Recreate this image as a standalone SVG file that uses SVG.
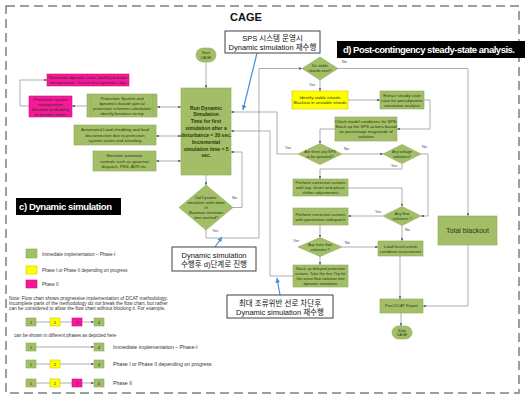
<svg xmlns="http://www.w3.org/2000/svg" width="531" height="402" viewBox="0 0 531 402">
<defs>
<marker id="ah" viewBox="0 0 6 6" refX="6" refY="3" markerWidth="4" markerHeight="4" orient="auto-start-reverse"><path d="M0,0 L6,3 L0,6 z" fill="#555"/></marker>
<marker id="bh" viewBox="0 0 6 6" refX="6" refY="3" markerWidth="4" markerHeight="4" orient="auto"><path d="M0,0 L6,3 L0,6 z" fill="#4a8fd6"/></marker>
<style>
.g{fill:#a2bf68;stroke:#8ea956;stroke-width:0.6}
.m{fill:#f7179b;stroke:#d0107f;stroke-width:0.6}
.y{fill:#ffff00;stroke:#c8c800;stroke-width:0.6}
.t{font-family:"Liberation Sans",Arial,sans-serif;font-size:4.3px;fill:#2b3510;text-anchor:middle}
.b{font-weight:bold}
.s{font-size:3.8px}
.lab{font-family:"Liberation Sans",Arial,sans-serif;font-size:3.8px;fill:#444}
.k{font-family:"Liberation Sans","Noto Sans CJK KR",sans-serif;font-size:7.5px;fill:#111;text-anchor:middle}
.co{fill:#fff;stroke:#404040;stroke-width:1}
.blk{fill:#000}
.wt{font-family:"Liberation Sans",Arial,sans-serif;font-size:9.5px;font-weight:bold;fill:#fff}
.ln{fill:none;stroke:#8c8c8c;stroke-width:0.7;marker-end:url(#ah)}
.dbl{marker-start:url(#ah)}
.blue{fill:none;stroke:#4a8fd6;stroke-width:1.2;marker-end:url(#bh)}
.lg{font-family:"Liberation Sans",Arial,sans-serif;font-size:4.5px;fill:#333}
</style>
</defs>
<rect x="6" y="6" width="513" height="387" fill="none" stroke="#7f7f7f" stroke-width="1.5" stroke-dasharray="9 5"/>
<text x="246" y="21" font-family="Liberation Sans,Arial,sans-serif" font-size="11" font-weight="bold" text-anchor="middle" fill="#111">CAGE</text>

<g id="connectors">
<path class="ln" d="M206,62 V88"/>
<path class="ln dbl" d="M157,107 H181"/>
<path class="ln" d="M87,106 H72"/>
<path class="ln" d="M29,106 H20 V80 H47"/>
<path class="ln dbl" d="M156,136 H181"/>
<path class="ln dbl" d="M156,161 H181"/>
<path class="ln" d="M206,175 V185"/>
<path class="ln" d="M233,207.5 H242 V152 H231"/>
<path class="ln" d="M206,230 V238 H259 V68.5 H302"/>
<path class="ln" d="M298,154 H277 V112 H231"/>
<path class="ln" d="M293,276 H270 V131 H231"/>
<path class="ln" d="M338,68.5 H468 V216"/>
<path class="ln" d="M320,80 V91"/>
<path class="ln" d="M348,100 H380"/>
<path class="ln" d="M424,100 H430 V129 H397"/>
<path class="ln" d="M335,129 H320 V143.5"/>
<path class="ln" d="M342,154 H383"/>
<path class="ln" d="M421,154 H428 V216 H421"/>
<path class="ln" d="M402,163.5 V169 H320 V179"/>
<path class="ln" d="M348,188 H402 V206.5"/>
<path class="ln" d="M383,216 H348"/>
<path class="ln" d="M402,225.5 V241"/>
<path class="ln" d="M320,225 V237.5"/>
<path class="ln" d="M342,247 H378"/>
<path class="ln" d="M320,256.5 V265"/>
<path class="ln" d="M400,256 V299"/>
<path class="ln" d="M468,245 V306 H423"/>
<path class="ln" d="M401,313 V326"/>
<path class="blue" d="M257,53 L243,110"/>
<path class="blue" d="M215,247 L222,237"/>
<path class="blue" d="M280,295 L277,278"/>
<text class="lab" x="232" y="199">No</text>
<text class="lab" x="212" y="232">Yes</text>
<text class="lab" x="342" y="63">No</text>
<text class="lab" x="309" y="86">Yes</text>
<text class="lab" x="285" y="149">Yes</text>
<text class="lab" x="344" y="150">No</text>
<text class="lab" x="422" y="148">No</text>
<text class="lab" x="391" y="167">Yes</text>
<text class="lab" x="375" y="213">Yes</text>
<text class="lab" x="405" y="231">No</text>
<text class="lab" x="293" y="242">Yes</text>
<text class="lab" x="345" y="244">No</text>
</g>

<g id="start"><rect class="g" x="196" y="48" width="20" height="14" rx="7"/><text class="t s" x="206" y="54">Start</text><text class="t s" x="206" y="58.5">CAGE</text></g>

<g id="run"><rect class="g" x="181" y="88" width="50" height="87"/>
<text class="t b" style="font-size:5px" x="206"><tspan x="206" y="109.7">Run Dynamic</tspan><tspan x="206" y="116.2">Simulation</tspan><tspan x="206" y="123.2">Time for first</tspan><tspan x="206" y="130.2">simulation after a</tspan><tspan x="206" y="137.2">disturbance = 30 sec.</tspan><tspan x="206" y="144.2">Incremental</tspan><tspan x="206" y="150.7">simulation time = 5</tspan><tspan x="206" y="157.2">sec.</tspan></text></g>

<g id="memorize"><rect class="m" x="47" y="74" width="82" height="12"/><text class="t" x="88"><tspan x="88" y="79">Memorize dynamic state, identify breaker</tspan><tspan x="88" y="84">misoperation. Create new dynamic cage</tspan></text></g>

<g id="misoperation"><rect class="m" x="29" y="96" width="43" height="21"/><text class="t" x="50.5"><tspan x="50.5" y="100.5">Protection system</tspan><tspan x="50.5" y="105.5">misoperation</tspan><tspan x="50.5" y="110.5">Simulate probability</tspan><tspan x="50.5" y="115.5">to breaker failure</tspan></text></g>

<g id="protection"><rect class="g" x="87" y="94" width="70" height="23"/><line x1="91" y1="94" x2="91" y2="117" stroke="#8ea956" stroke-width="0.6"/><line x1="153" y1="94" x2="153" y2="117" stroke="#8ea956" stroke-width="0.6"/><text class="t" x="122"><tspan x="122" y="99.5">Protection System and</tspan><tspan x="122" y="104.5">dynamics based special</tspan><tspan x="122" y="109.5">protection schemes simulation</tspan><tspan x="122" y="114.5">identify breakers to trip</tspan></text></g>

<g id="loadshed"><rect class="g" x="74" y="125" width="82" height="20"/><text class="t" x="115"><tspan x="115" y="131">Automated Load shedding and load</tspan><tspan x="115" y="136.5">disconnection due to protection</tspan><tspan x="115" y="142">system action and islanding</tspan></text></g>

<g id="controls"><rect class="g" x="93" y="151" width="63" height="20"/><text class="t" x="124.5"><tspan x="124.5" y="157">Simulate automatic</tspan><tspan x="124.5" y="162.5">controls such as governor</tspan><tspan x="124.5" y="168">dispatch, PSS, AVR etc.</tspan></text></g>

<g id="settle"><polygon class="g" points="206,185 233,207.5 206,230 179,207.5"/><text class="t s" x="206"><tspan x="206" y="199.3">Did Dynamic</tspan><tspan x="206" y="204.1">simulation settle down</tspan><tspan x="206" y="208.9">Or</tspan><tspan x="206" y="213.7">Maximum simulation</tspan><tspan x="206" y="218.5">time reached?</tspan></text></g>

<g id="islands"><polygon class="g" points="320,57 338,68.5 320,80 302,68.5"/><text class="t s" x="320"><tspan x="320" y="67.3">Do stable</tspan><tspan x="320" y="72">islands exist?</tspan></text></g>

<g id="identify"><rect class="y" x="292" y="91" width="56" height="18"/><text class="t" x="320"><tspan x="320" y="99">Identify stable islands</tspan><tspan x="320" y="104">Blackout in unstable islands</tspan></text></g>

<g id="extract"><rect class="g" x="380" y="91" width="44" height="18"/><text class="t" x="402"><tspan x="402" y="96.5">Extract steady state</tspan><tspan x="402" y="101.5">case for post-dynamic</tspan><tspan x="402" y="106.5">simulation analysis</tspan></text></g>

<g id="check"><rect class="g" x="335" y="117" width="62" height="24"/><text class="t" x="366"><tspan x="366" y="123">Check model conditions for SPS.</tspan><tspan x="366" y="128">Stack up the SPS actions based</tspan><tspan x="366" y="133">on percentage magnitude of</tspan><tspan x="366" y="138">violation</tspan></text></g>

<g id="sps"><polygon class="g" points="320,143.5 342,154 320,164.5 298,154"/><text class="t s" x="320"><tspan x="320" y="153">Are there any SPS</tspan><tspan x="320" y="157.8">to be operated?</tspan></text></g>

<g id="voltage"><polygon class="g" points="402,144.5 421,154 402,163.5 383,154"/><text class="t s" x="402"><tspan x="402" y="153">Any voltage</tspan><tspan x="402" y="157.8">violations?</tspan></text></g>

<g id="tap"><rect class="g" x="293" y="179" width="55" height="17"/><text class="t" x="320.5"><tspan x="320.5" y="184">Perform corrective actions</tspan><tspan x="320.5" y="189">with tap, shunt and phase</tspan><tspan x="320.5" y="194">shifter adjustments</tspan></text></g>

<g id="flow"><polygon class="g" points="402,206.5 421,216 402,225.5 383,216"/><text class="t s" x="402"><tspan x="402" y="215">Any flow</tspan><tspan x="402" y="219.8">violations ?</tspan></text></g>

<g id="gen"><rect class="g" x="293" y="208" width="55" height="17"/><text class="t" x="320.5"><tspan x="320.5" y="215.5">Perform corrective actions</tspan><tspan x="320.5" y="220.5">with generation redispatch</tspan></text></g>

<g id="moreflow"><polygon class="g" points="320,237.5 342,247 320,256.5 298,247"/><text class="t s" x="320"><tspan x="320" y="246">Any more flow</tspan><tspan x="320" y="250.8">violations ?</tspan></text></g>

<g id="loadloss"><rect class="g" x="378" y="241" width="45" height="15"/><text class="t" x="400.5"><tspan x="400.5" y="247.5">Load loss/custom</tspan><tspan x="400.5" y="252.5">condition assessment</tspan></text></g>

<g id="stackup"><rect class="g" x="293" y="265" width="55" height="22"/><text class="t" style="font-size:4px" x="320.5"><tspan x="320.5" y="270.2">Stack up delayed protection</tspan><tspan x="320.5" y="275">actions. Take the line Trip for</tspan><tspan x="320.5" y="279.8">the worst flow violation into</tspan><tspan x="320.5" y="284.6">dynamic simulation</tspan></text></g>

<g id="blackout"><rect class="g" x="438" y="216" width="59" height="29"/><text class="t" style="font-size:7px" x="467.5" y="233">Total blackout</text></g>

<g id="postdcat"><rect class="g" x="380" y="299" width="43" height="14"/><text class="t" style="font-size:4px" x="401.5" y="307.4">Post DCAT Report</text></g>

<g id="stop"><rect class="g" x="392" y="326" width="20" height="13" rx="6.5"/><text class="t s" x="402"><tspan x="402" y="331.5">Stop</tspan><tspan x="402" y="336">CAGE</tspan></text></g>

<g id="callout-sps"><rect class="co" x="225" y="31" width="95" height="22"/><text class="k" x="272.5"><tspan x="272.5" y="40.7">SPS 시스템 운영시</tspan><tspan x="272.5" y="49.7">Dynamic simulation 재수행</tspan></text></g>

<g id="callout-dsim"><rect class="co" x="172" y="247" width="84" height="24"/><text class="k" x="214"><tspan x="214" y="257.5">Dynamic simulation</tspan><tspan x="214" y="266.5">수행후 d)단계로 진행</tspan></text></g>

<g id="callout-rerun"><rect class="co" x="227" y="295" width="106" height="23"/><text class="k" x="280"><tspan x="280" y="305.5">최대 조류위반 선로 차단후</tspan><tspan x="280" y="314.5">Dynamic simulation 재수행</tspan></text></g>

<g id="label-d"><rect class="blk" x="337" y="41" width="188" height="17"/><text class="wt" x="343" y="52.8" textLength="172" lengthAdjust="spacing">d) Post-contingency  steady-state  analysis.</text></g>

<g id="label-c"><rect class="blk" x="16" y="198" width="105" height="17"/><text class="wt" x="19" y="210" textLength="93" lengthAdjust="spacing">c) Dynamic  simulation</text></g>

<g id="legend">
<rect class="g" x="26" y="249" width="11" height="9"/><text class="lg" x="42" y="255.5">Immediate implementation – Phase-I</text>
<rect class="y" x="26" y="266" width="11" height="8"/><text class="lg" x="42" y="271.5">Phase I or Phase II depending on progress</text>
<rect class="m" x="26" y="280" width="11" height="8"/><text class="lg" x="42" y="285.5">Phase II</text>
<text class="lg" style="font-size:4.8px" x="9" y="299.5">Note: Flow chart shows progressive implementation of DCAT methodology.</text>
<text class="lg" style="font-size:4.8px" x="9" y="304.5">Incomplete parts of the methodology do not break the flow chart, but rather</text>
<text class="lg" style="font-size:4.8px" x="9" y="309.5">can be considered to allow the flow chart without blocking it. For example,</text>
<text class="lg" style="font-size:4.6px" x="14" y="336.5">can be shown in different phases as depicted here</text>
</g>

<g id="example-rows">
<path class="ln" d="M36,322 H50 M60,322 H72 M82,322 H94"/>
<rect class="g" x="26" y="318" width="10" height="8"/><text class="t" x="31" y="323.5">1</text>
<rect class="y" x="50" y="318" width="10" height="8"/><text class="t" x="55" y="323.5">2</text>
<rect class="m" x="72" y="318" width="10" height="8"/><text class="t" x="77" y="323.5">3</text>
<rect class="g" x="94" y="318" width="10" height="8"/><text class="t" x="99" y="323.5">4</text>

<path class="ln" d="M36,347 H94"/>
<rect class="g" x="26" y="343" width="10" height="8"/><text class="t" x="31" y="348.5">1</text>
<rect class="g" x="94" y="343" width="10" height="8"/><text class="t" x="99" y="348.5">4</text>
<text class="lg" style="font-size:5.2px" x="113" y="349">Immediate implementation – Phase-I</text>

<path class="ln" d="M36,364 H50 M60,364 H94"/>
<rect class="g" x="26" y="360" width="10" height="8"/><text class="t" x="31" y="365.5">1</text>
<rect class="y" x="50" y="360" width="10" height="8"/><text class="t" x="55" y="365.5">2</text>
<rect class="g" x="94" y="360" width="10" height="8"/><text class="t" x="99" y="365.5">4</text>
<text class="lg" style="font-size:5.2px" x="113" y="366">Phase I or Phase II depending on progress</text>

<path class="ln" d="M36,383 H50 M60,383 H72 M82,383 H94"/>
<rect class="g" x="26" y="379" width="10" height="8"/><text class="t" x="31" y="384.5">1</text>
<rect class="y" x="50" y="379" width="10" height="8"/><text class="t" x="55" y="384.5">2</text>
<rect class="m" x="72" y="379" width="10" height="8"/><text class="t" x="77" y="384.5">3</text>
<rect class="g" x="94" y="379" width="10" height="8"/><text class="t" x="99" y="384.5">4</text>
<text class="lg" style="font-size:5.2px" x="113" y="385">Phase II</text>
</g>
</svg>
